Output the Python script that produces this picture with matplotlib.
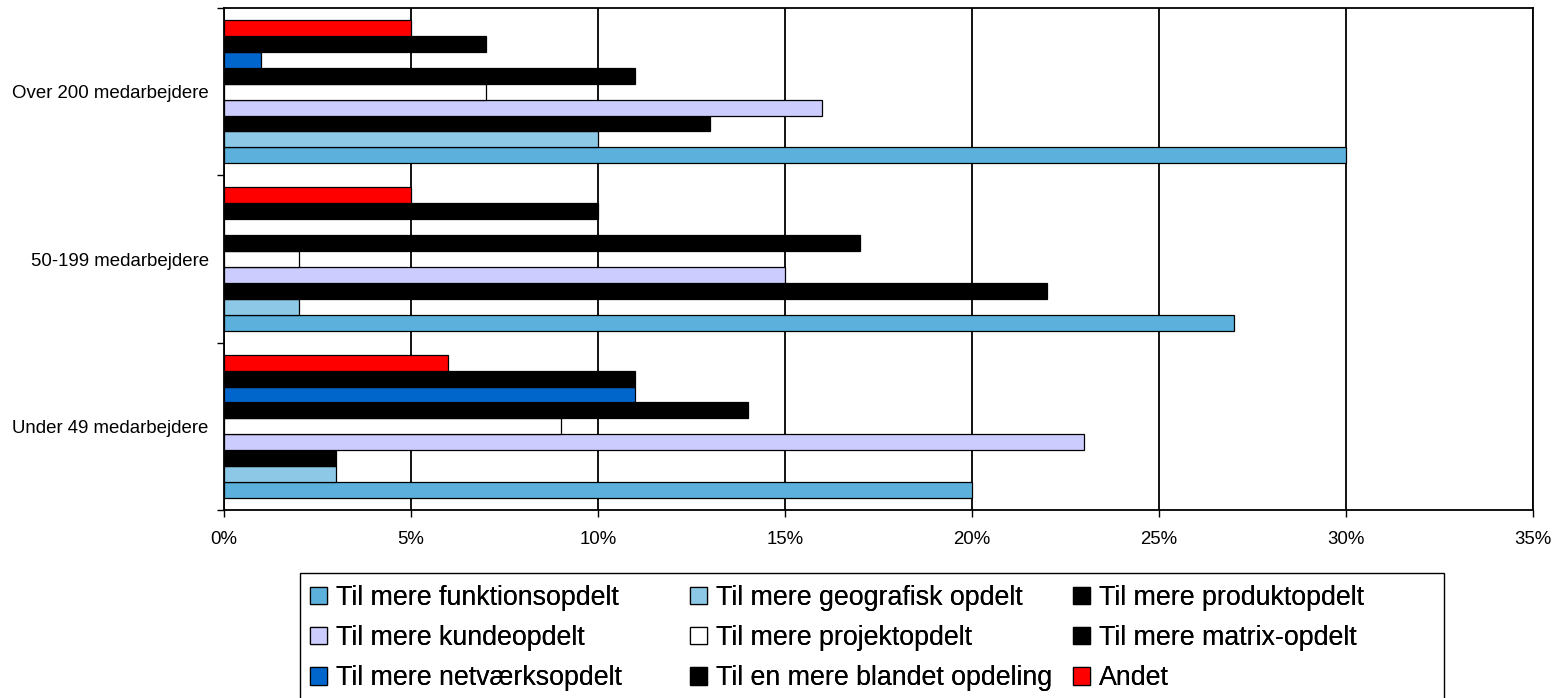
import matplotlib.pyplot as plt
import numpy as np
from matplotlib.ticker import PercentFormatter

plt.rcParams['font.family'] = ['Liberation Sans', 'DejaVu Sans']

categories = ['Under 49 medarbejdere', '50-199 medarbejdere', 'Over 200 medarbejdere']
series = ['Til mere funktionsopdelt', 'Til mere geografisk opdelt', 'Til mere produktopdelt',
          'Til mere kundeopdelt', 'Til mere projektopdelt', 'Til mere matrix-opdelt',
          'Til mere netværksopdelt', 'Til en mere blandet opdeling', 'Andet']
colors = ['#5BB1DB', '#8DC9E6', '#000000', '#CCCCFF', '#FFFFFF', '#000000',
          '#0066CC', '#000000', '#FF0000']

funktion = [20, 27, 30]
geografisk = [3, 2, 10]
produkt = [3, 22, 13]
kunde = [23, 15, 16]
projekt = [9, 2, 7]
matrix = [14, 17, 11]
netvaerk = [11, 0, 1]
blandet = [11, 10, 7]
andet = [6, 5, 5]
values = [funktion, geografisk, produkt, kunde, projekt, matrix, netvaerk, blandet, andet]

W, H = 1559, 698
fig = plt.figure(figsize=(W/100, H/100), dpi=100)
ax = fig.add_axes([224/W, 1-510/H, (1533-224)/W, (510-8)/H])

y = np.arange(len(categories))
h = 0.0951
handles = []
for i, (name, vals) in enumerate(zip(series, values)):
    off = (i - 4) * h
    b = ax.barh(y + off, vals, h, color=colors[i], edgecolor='black', linewidth=0.9,
                label=name, zorder=3)
    handles.append(b)

ax.set_xlim(0, 35)
ax.set_ylim(-0.5, 2.5)
ax.set_xticks(np.arange(0, 36, 5))
ax.xaxis.set_major_formatter(PercentFormatter(decimals=0))
ax.set_yticks([-0.5, 0.5, 1.5, 2.5])
ax.set_yticklabels([])
ax.set_yticks(y, minor=True)
ax.set_yticklabels(categories, minor=True)
ax.tick_params(axis='y', which='minor', length=0, pad=11, labelsize=13.4)
ax.tick_params(axis='y', which='major', length=5, width=1)
ax.tick_params(axis='x', length=5, width=1, pad=10, labelsize=13.4)
ax.grid(axis='x', color='black', linewidth=1.3, zorder=0)
for s in ax.spines.values():
    s.set_linewidth(1.3)

# legend: three equal-width columns, filled row by row, inside one frame
col_x = [310, 690, 1073]
for c in range(3):
    idx = [c, c + 3, c + 6]
    leg = fig.legend([handles[k] for k in idx], [series[k] for k in idx],
                     loc='upper left', bbox_to_anchor=(col_x[c]/W, 1-585/H),
                     fontsize=19.3, frameon=False,
                     handlelength=0.62, handleheight=0.62, handletextpad=0.35,
                     borderpad=0, labelspacing=0.53, borderaxespad=0)
    fig.add_artist(leg)

frame = plt.Rectangle((300/W, -0.05), (1444-300)/W, 0.05 + (1-573/H),
                      transform=fig.transFigure, fill=False, edgecolor='black', linewidth=1.0)
fig.add_artist(frame)

plt.savefig('out.png', dpi=100)
